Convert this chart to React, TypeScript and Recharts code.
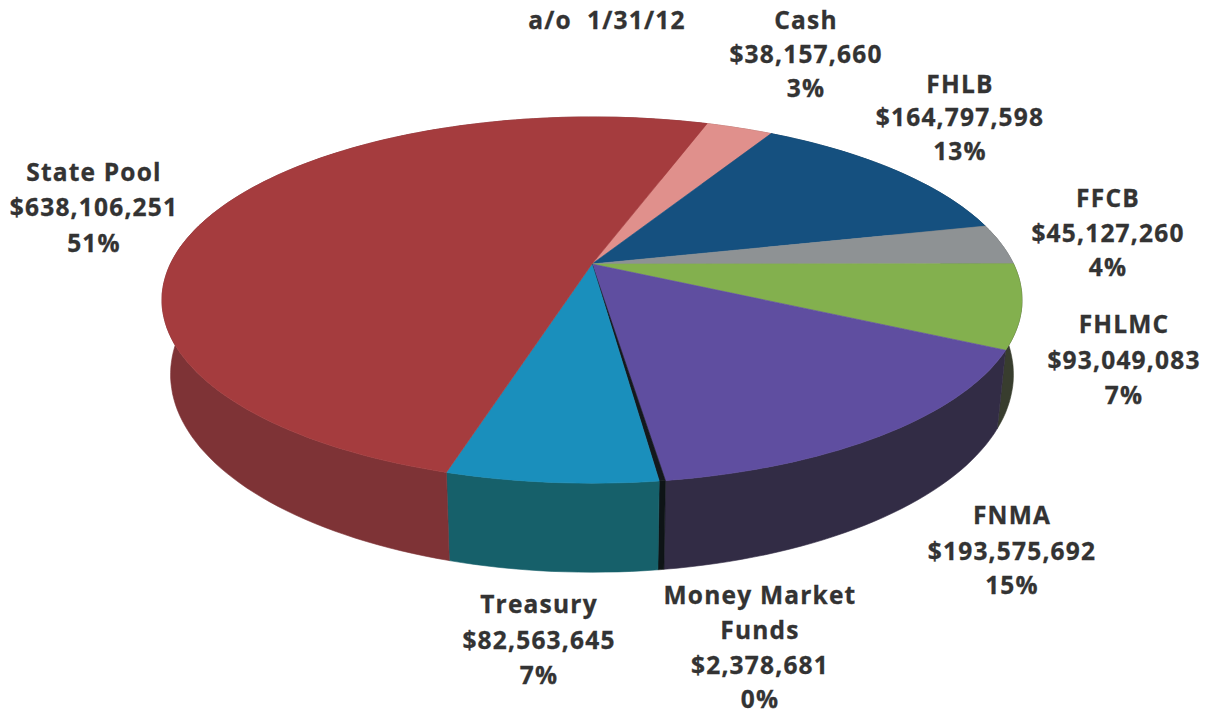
import { Pie, PieChart } from 'recharts';

// Holdings as of the report date, clockwise from the Cash slice
const categories = ['Cash', 'FHLB', 'FFCB', 'FHLMC', 'FNMA', 'Money Market Funds', 'Treasury', 'State Pool'];
const balances = [38157660, 164797598, 45127260, 93049083, 193575692, 2378681, 82563645, 638106251];

const topColors = ['#E0908C', '#15507F', '#8E9294', '#83B04E', '#5F4EA0', '#14181C', '#1A8FBC', '#A53C3E'];
const wallColors = ['#9A6462', '#0F3858', '#5E6163', '#383D2E', '#322C45', '#0E1416', '#16606A', '#7E3336'];

// Label wrapping and where each block of text sits (centre x, first line middle y)
const labelLines = [['Cash'], ['FHLB'], ['FFCB'], ['FHLMC'], ['FNMA'], ['Money Market', 'Funds'], ['Treasury'], ['State Pool']];
const labelAnchors = [
  [806, 20],
  [960, 84],
  [1108, 198],
  [1124, 324],
  [1012, 515],
  [760, 595],
  [539, 604],
  [94, 172],
];
const lineSteps = [
  [34, 34, 34],
  [33, 34, 34],
  [35, 34, 34],
  [36, 35, 34],
  [36, 34, 34],
  [35, 35, 34],
  [36, 35, 34],
  [35, 36, 34],
];

const chartData = categories.map((name, i) => ({ name, value: balances[i], wall: wallColors[i], top: topColors[i] }));

const TILT = 0.4175;
const PERSPECTIVE = 0.197;
const DEPTH = 71.5;
const BASE_SCALE = 0.98;
const RAD = Math.PI / 180;

const textStyle = {
  fontFamily: '"Open Sans", sans-serif',
  fontWeight: 700,
  fontSize: 24.5,
  letterSpacing: 1.2,
  fill: '#333333',
  stroke: '#333333',
  strokeWidth: 0.3,
};

// Pie angles run anticlockwise from 3 o'clock; project them onto the tilted disc
function project(cx: number, cy: number, r: number, deg: number, lowered: boolean) {
  const u = Math.cos(deg * RAD);
  const v = -Math.sin(deg * RAD);
  const w = 1 - PERSPECTIVE * v;
  const s = lowered ? BASE_SCALE : 1;
  return [cx + (s * r * u) / w, cy + (r * TILT * v + (lowered ? DEPTH : 0)) / w];
}

function arcPoints(cx: number, cy: number, r: number, from: number, to: number, lowered: boolean) {
  const steps = Math.max(2, Math.ceil(Math.abs(to - from) / 1.5));
  const pts: number[][] = [];
  for (let i = 0; i <= steps; i++) {
    pts.push(project(cx, cy, r, from + ((to - from) * i) / steps, lowered));
  }
  return pts;
}

const toPath = (pts: number[][]) =>
  'M' + pts.map((p) => `${p[0].toFixed(1)},${p[1].toFixed(1)}`).join('L') + 'Z';

function TopFace(props: any) {
  const { cx, cy, outerRadius, startAngle, endAngle, payload } = props;
  const pts = [[cx, cy], ...arcPoints(cx, cy, outerRadius, startAngle, endAngle, false)];
  return <path d={toPath(pts)} fill={payload.top} stroke={payload.top} strokeWidth={0.6} />;
}

function SideWall(props: any) {
  const { cx, cy, outerRadius, startAngle, endAngle, payload } = props;
  const upper = arcPoints(cx, cy, outerRadius, startAngle, endAngle, false);
  const lower = arcPoints(cx, cy, outerRadius, startAngle, endAngle, true).reverse();
  return <path d={toPath([...upper, ...lower])} fill={payload.wall} stroke={payload.wall} strokeWidth={0.6} />;
}

function SliceLabel(props: any) {
  const { index, name, value, percent } = props;
  const [x, y] = labelAnchors[index];
  const rows = [...labelLines[index], '$' + value.toLocaleString('en-US'), Math.round(percent * 100) + '%'];
  const steps = lineSteps[index];
  let rowY = y + 9;
  return (
    <text key={name} textAnchor="middle" {...textStyle}>
      {rows.map((row, i) => {
        rowY += i === 0 ? 0 : steps[i - 1];
        return (
          <tspan key={row} x={x} y={rowY}>
            {row}
          </tspan>
        );
      })}
    </text>
  );
}

export default function App() {
  return (
    <div style={{ position: 'absolute', left: 0, top: 0, width: 1209, height: 715, background: '#fff' }}>
      <PieChart width={1209} height={715} margin={{ top: 0, right: 0, bottom: 0, left: 0 }}>
        <Pie
          data={chartData}
          dataKey="value"
          nameKey="name"
          cx={592}
          cy={264}
          outerRadius={421.6}
          startAngle={71.1}
          endAngle={-288.9}
          stroke="none"
          shape={SideWall}
          isAnimationActive={false}
        />
        <Pie
          data={chartData}
          dataKey="value"
          nameKey="name"
          cx={592}
          cy={264}
          outerRadius={421.6}
          startAngle={71.1}
          endAngle={-288.9}
          stroke="none"
          shape={TopFace}
          label={SliceLabel}
          labelLine={false}
          isAnimationActive={false}
        />
        <text x={607} y={29} textAnchor="middle" xmlSpace="preserve" {...textStyle}>
          a/o  1/31/12
        </text>
      </PieChart>
    </div>
  );
}
